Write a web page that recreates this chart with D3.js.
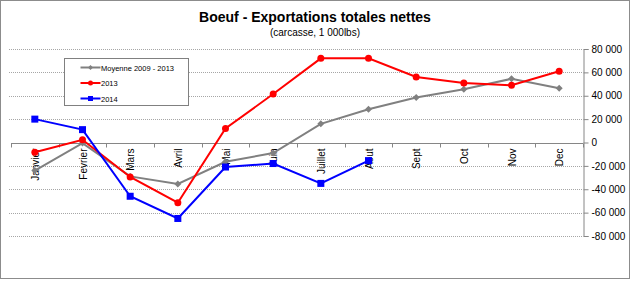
<!DOCTYPE html>
<html>
<head>
<meta charset="utf-8">
<script src="https://cdn.jsdelivr.net/npm/d3@7"></script>
<style>
  body { margin: 0; background: #fff; }
  text { font-family: "Liberation Sans", Arial, sans-serif; }
</style>
</head>
<body>
<svg id="chart" width="631" height="281"></svg>
<script>
// Boeuf - Exportations totales nettes, monthly values (1 000 lbs)
const months = ["Janvier", "Fevrier", "Mars", "Avril", "Mai", "Juin", "Juillet", "Aout", "Sept", "Oct", "Nov", "Dec"];
const moyenne = [-24000, -500, -29000, -35500, -16500, -9000, 16000, 28500, 38500, 45500, 54500, 46500];
const y2013 = [-8300, 2300, -29500, -51500, 12000, 41500, 72000, 72000, 56000, 51000, 49000, 61000];
const y2014 = [20000, 11000, -46000, -65000, -21000, -18000, -35000, -15500];
const yTicks = [80000, 60000, 40000, 20000, 0, -20000, -40000, -60000, -80000];

const series = [
  { name: "Moyenne 2009 - 2013", values: moyenne, color: "#808080", marker: "diamond", width: 2 },
  { name: "2013", values: y2013, color: "#ff0000", marker: "circle", width: 2 },
  { name: "2014", values: y2014, color: "#0000ff", marker: "square", width: 2 }
];

const svg = d3.select("#chart");
const plot = { left: 11, right: 583, top: 49, bottom: 236 };

// outer frame
svg.append("rect")
  .attr("x", 0.5).attr("y", 0.5).attr("width", 629).attr("height", 278)
  .attr("fill", "#fff").attr("stroke", "#8c8c8c").attr("stroke-width", 1);

const x = d3.scaleBand().domain(months).range([plot.left, plot.right]);
const y = d3.scaleLinear().domain([-80000, 80000]).range([plot.bottom, plot.top]);
const fmt = v => d3.format(",")(v).replace(/,/g, " ").replace("−", "-");

// gridlines
svg.append("g")
  .selectAll("line").data(yTicks.filter(d => d !== 0)).join("line")
  .attr("x1", plot.left - 2).attr("x2", plot.right)
  .attr("y1", d => Math.round(y(d)) + 0.5).attr("y2", d => Math.round(y(d)) + 0.5)
  .attr("stroke", "#a6a6a6").attr("stroke-width", 1).attr("stroke-dasharray", "1,1");

// right y axis
const yAxis = svg.append("g")
  .attr("transform", `translate(${plot.right + 0.5},0)`)
  .call(d3.axisRight(y).tickValues(yTicks).tickSize(5).tickPadding(3).tickFormat(fmt));
yAxis.select(".domain").attr("stroke", "#868686");
yAxis.selectAll(".tick line").attr("stroke", "#868686");
yAxis.selectAll("text").attr("font-size", 10).attr("fill", "#000")
  .attr("font-family", "'Liberation Sans', Arial, sans-serif");

// x axis at zero
const y0 = Math.round(y(0)) + 0.5;
const xAxis = svg.append("g").attr("transform", `translate(0,${y0})`);
xAxis.append("line")
  .attr("x1", plot.left).attr("x2", plot.right).attr("y1", 0).attr("y2", 0)
  .attr("stroke", "#868686");
const bounds = months.map(m => x(m)).concat([plot.right]);
xAxis.selectAll("line.tk").data(bounds).join("line").attr("class", "tk")
  .attr("x1", d => Math.round(d) + 0.5).attr("x2", d => Math.round(d) + 0.5)
  .attr("y1", 0).attr("y2", 4).attr("stroke", "#868686");
xAxis.selectAll("text").data(months).join("text")
  .attr("transform", d => `translate(${x(d) + x.bandwidth() / 2 + 4},5) rotate(-90)`)
  .attr("text-anchor", "end")
  .attr("font-size", 10)
  .attr("fill", "#000")
  .text(d => d);

// lines and markers
const line = d3.line()
  .x((d, i) => x(months[i]) + x.bandwidth() / 2)
  .y(d => y(d));

function drawMarker(g, type, color, cx, cy) {
  if (type === "circle") {
    g.append("circle").attr("cx", cx).attr("cy", cy).attr("r", 3.5).attr("fill", color);
  } else if (type === "square") {
    g.append("rect").attr("x", cx - 3.5).attr("y", cy - 3.5).attr("width", 7).attr("height", 7).attr("fill", color);
  } else {
    g.append("path").attr("d", `M${cx},${cy - 3.5}L${cx + 3.5},${cy}L${cx},${cy + 3.5}L${cx - 3.5},${cy}Z`).attr("fill", color);
  }
}

series.forEach(s => {
  const g = svg.append("g");
  g.append("path").datum(s.values)
    .attr("d", line).attr("fill", "none")
    .attr("stroke", s.color).attr("stroke-width", s.width);
  s.values.forEach((v, i) => drawMarker(g, s.marker, s.color, x(months[i]) + x.bandwidth() / 2, y(v)));
});

// legend
const legend = svg.append("g").attr("transform", "translate(64.5,58.5)");
legend.append("rect").attr("width", 124).attr("height", 47)
  .attr("fill", "#fff").attr("stroke", "#808080");
series.forEach((s, i) => {
  const ly = 9 + i * 15.5;
  legend.append("line").attr("x1", 16).attr("x2", 36).attr("y1", ly).attr("y2", ly)
    .attr("stroke", s.color).attr("stroke-width", 2);
  const mg = legend.append("g");
  if (s.marker === "circle") mg.append("circle").attr("cx", 26).attr("cy", ly).attr("r", 2.5).attr("fill", s.color);
  else if (s.marker === "square") mg.append("rect").attr("x", 23.5).attr("y", ly - 2.5).attr("width", 5).attr("height", 5).attr("fill", s.color);
  else mg.append("path").attr("d", `M26,${ly - 2.5}L28.5,${ly}L26,${ly + 2.5}L23.5,${ly}Z`).attr("fill", s.color);
  legend.append("text").attr("x", 36.5).attr("y", ly + 3).attr("font-size", 7.5).attr("fill", "#000").text(s.name);
});

// titles
svg.append("text").attr("x", 315).attr("y", 22).attr("text-anchor", "middle")
  .attr("font-size", 14).attr("font-weight", "bold").attr("fill", "#000")
  .text("Boeuf - Exportations totales nettes");
svg.append("text").attr("x", 315).attr("y", 36).attr("text-anchor", "middle")
  .attr("font-size", 10).attr("fill", "#000")
  .text("(carcasse, 1 000lbs)");
</script>
</body>
</html>
